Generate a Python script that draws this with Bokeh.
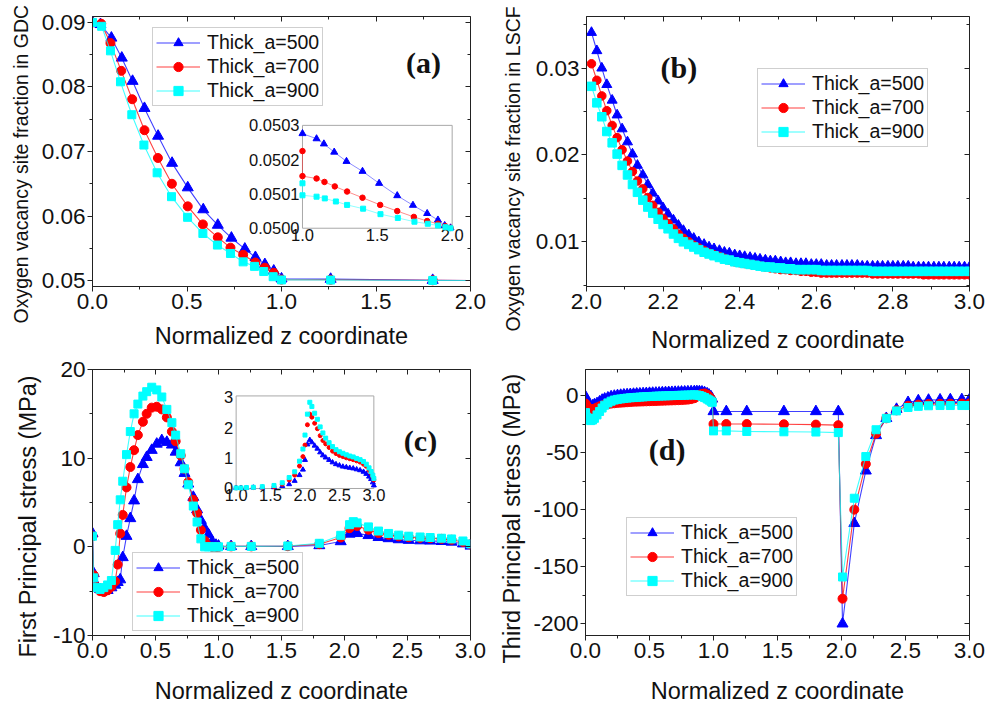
import numpy as np
from bokeh.plotting import figure
from bokeh.layouts import row, column
from bokeh.models import (Range1d, LinearAxis, SingleIntervalTicker, PrintfTickFormatter, Label, Title,
                          CustomJSTickFormatter)
from bokeh.core.properties import value
from bokeh.embed import file_html
from bokeh.resources import INLINE

# ---------------- data ----------------
SERIES = ["Thick_a=500", "Thick_a=700", "Thick_a=900"]

# (a) oxygen vacancy site fraction in GDC
X_A500 = [0.0, 0.042, 0.10, 0.155, 0.212, 0.275, 0.347, 0.421, 0.504, 0.586, 0.663, 0.735, 0.806, 0.862, 0.912, 0.959, 1.0, 1.26, 1.8, 2.0]
Y_A500 = [0.0900, 0.0897, 0.0876, 0.0845, 0.0809, 0.0767, 0.0724, 0.0682, 0.0644, 0.0610, 0.0586, 0.0566, 0.0549, 0.0536, 0.0525, 0.0515, 0.05028, 0.05022, 0.05005, 0.0500]
X_A700 = [0.0, 0.046, 0.095, 0.152, 0.21, 0.275, 0.346, 0.42, 0.504, 0.584, 0.663, 0.73, 0.797, 0.862, 0.912, 0.959, 1.0, 1.26, 1.8, 2.0]
Y_A700 = [0.0900, 0.0898, 0.0868, 0.0825, 0.0781, 0.0733, 0.0690, 0.0650, 0.0615, 0.0587, 0.0567, 0.0551, 0.0540, 0.0528, 0.0520, 0.0512, 0.05015, 0.05013, 0.05004, 0.0500]
X_A900 = [0.0, 0.048, 0.095, 0.148, 0.208, 0.272, 0.342, 0.418, 0.503, 0.584, 0.661, 0.73, 0.797, 0.857, 0.906, 0.956, 1.0, 1.26, 1.8, 2.0]
Y_A900 = [0.0900, 0.0894, 0.0856, 0.0808, 0.0757, 0.0710, 0.0667, 0.0630, 0.0598, 0.0573, 0.0555, 0.0542, 0.0529, 0.0522, 0.0514, 0.0506, 0.05010, 0.05008, 0.05002, 0.0500]

# (a) inset
XI_A500 = [1.0, 1.094, 1.143, 1.212, 1.294, 1.401, 1.512, 1.633, 1.738, 1.833, 1.905, 1.950, 1.989]
YI_A500 = [0.050276, 0.050261, 0.050246, 0.050222, 0.050195, 0.050166, 0.050131, 0.050095, 0.050067, 0.050043, 0.050024, 0.050008, 0.050001]
XI_A700 = [1.0, 1.0, 1.094, 1.147, 1.216, 1.298, 1.401, 1.519, 1.633, 1.744, 1.833, 1.905, 1.955, 1.989]
YI_A700 = [0.050225, 0.050152, 0.050145, 0.050135, 0.050122, 0.050107, 0.050089, 0.050068, 0.050050, 0.050033, 0.050021, 0.050013, 0.050006, 0.050001]
XI_A900 = [1.0, 1.0, 1.094, 1.149, 1.223, 1.298, 1.405, 1.521, 1.637, 1.748, 1.837, 1.905, 1.955, 1.989]
YI_A900 = [0.050131, 0.050096, 0.050092, 0.050087, 0.050078, 0.050068, 0.050057, 0.050041, 0.050030, 0.050019, 0.050013, 0.050008, 0.050003, 0.050000]
INSET_A_XTICKS = [1.0, 1.5, 2.0]
INSET_A_YTICKS = [0.0500, 0.0501, 0.0502, 0.0503]

# (b) oxygen vacancy site fraction in LSCF
X_B = [2.013, 2.027, 2.040, 2.053, 2.067, 2.080, 2.093, 2.107, 2.120, 2.133, 2.147, 2.160, 2.173, 2.187, 2.200,
       2.213, 2.227, 2.240, 2.253, 2.267, 2.280, 2.293, 2.307, 2.320, 2.333, 2.347, 2.360, 2.373, 2.387, 2.400,
       2.413, 2.427, 2.440, 2.453, 2.467, 2.480, 2.493, 2.507, 2.520, 2.533, 2.547, 2.560, 2.573, 2.587, 2.600,
       2.613, 2.627, 2.640, 2.653, 2.667, 2.680, 2.693, 2.707, 2.720, 2.733, 2.747, 2.760, 2.773, 2.787, 2.800,
       2.813, 2.827, 2.840, 2.853, 2.867, 2.880, 2.893, 2.907, 2.920, 2.933, 2.947, 2.960, 2.973, 2.987, 3.000]
Y_B500 = [0.0341, 0.0320, 0.0300, 0.0281, 0.0263, 0.0246, 0.0230, 0.0215, 0.0201, 0.0188, 0.0177, 0.0166,
          0.0156, 0.0147, 0.0139, 0.0132, 0.0125, 0.0119, 0.0113, 0.0108, 0.0104, 0.0100, 0.0097, 0.0094,
          0.0092, 0.0090, 0.0088, 0.0087, 0.0085, 0.0084, 0.0083, 0.0082, 0.0081, 0.0080, 0.0079, 0.0078,
          0.0078, 0.0077, 0.0076, 0.0076, 0.0075, 0.0075, 0.0075, 0.0074, 0.0074, 0.0074, 0.0073, 0.0073,
          0.0073, 0.0073, 0.0073, 0.0073, 0.0073, 0.0072, 0.0072, 0.0072, 0.0072, 0.0072, 0.0072, 0.0072,
          0.0072, 0.0072, 0.0072, 0.0071, 0.0071, 0.0071, 0.0071, 0.0071, 0.0071, 0.0071, 0.0071, 0.0071,
          0.0071, 0.0071, 0.0071]
Y_B700 = [0.0305, 0.0286, 0.0268, 0.0251, 0.0234, 0.0220, 0.0206, 0.0193, 0.0181, 0.0170, 0.0161, 0.0151,
          0.0142, 0.0134, 0.0127, 0.0121, 0.0115, 0.0109, 0.0104, 0.0100, 0.0096, 0.0093, 0.0090, 0.0087,
          0.0085, 0.0083, 0.0081, 0.0079, 0.0077, 0.0076, 0.0075, 0.0074, 0.0073, 0.0072, 0.0071, 0.0070,
          0.0069, 0.0068, 0.0068, 0.0067, 0.0067, 0.0066, 0.0066, 0.0065, 0.0065, 0.0064, 0.0064, 0.0064,
          0.0064, 0.0064, 0.0064, 0.0064, 0.0064, 0.0064, 0.0064, 0.0063, 0.0063, 0.0063, 0.0063, 0.0063,
          0.0063, 0.0063, 0.0063, 0.0063, 0.0063, 0.0062, 0.0062, 0.0062, 0.0062, 0.0062, 0.0062, 0.0062,
          0.0062, 0.0062, 0.0062]
Y_B900 = [0.0279, 0.0260, 0.0244, 0.0227, 0.0214, 0.0201, 0.0188, 0.0177, 0.0166, 0.0157, 0.0148, 0.0140,
          0.0133, 0.0126, 0.0120, 0.0115, 0.0109, 0.0104, 0.0100, 0.0097, 0.0094, 0.0091, 0.0088, 0.0086,
          0.0084, 0.0082, 0.0080, 0.0079, 0.0077, 0.0076, 0.0075, 0.0074, 0.0073, 0.0072, 0.0071, 0.0071,
          0.0070, 0.0070, 0.0069, 0.0069, 0.0068, 0.0068, 0.0068, 0.0068, 0.0068, 0.0067, 0.0067, 0.0067,
          0.0067, 0.0067, 0.0067, 0.0067, 0.0067, 0.0067, 0.0067, 0.0066, 0.0066, 0.0066, 0.0066, 0.0066,
          0.0066, 0.0066, 0.0066, 0.0066, 0.0066, 0.0066, 0.0066, 0.0066, 0.0066, 0.0066, 0.0066, 0.0066,
          0.0066, 0.0066, 0.0066]

# (c) first principal stress (MPa)
X_C = [0.0, 0.01, 0.03, 0.06, 0.09, 0.12, 0.15, 0.18, 0.2, 0.22, 0.24, 0.27, 0.3, 0.33, 0.36, 0.4, 0.43, 0.47,
       0.51, 0.55, 0.59, 0.63, 0.66, 0.7, 0.73, 0.76, 0.8, 0.83, 0.86, 0.89, 0.92, 0.95, 0.98, 1.0,
       1.1, 1.26, 1.55, 1.8, 1.97, 2.04, 2.07, 2.1, 2.19, 2.27, 2.35, 2.43, 2.51, 2.6, 2.68, 2.77, 2.85, 2.94, 3.0]
Y_C500 = [1.5, -3.0, -4.3, -4.8, -5.0, -4.9, -4.6, -4.3, -4.0, -3.7, -1.2, 1.2, 3.2, 5.2, 7.6, 9.3, 10.1, 10.9,
          11.6, 12.0, 11.8, 11.5, 10.7, 9.5, 8.3, 7.1, 5.6, 4.2, 3.0, 2.1, 1.4, 0.6, 0.2, 0.1,
          0.05, 0.05, 0.05, 0.15, 0.6, 1.45, 1.6, 1.52, 1.29, 1.07, 0.94, 0.82, 0.75, 0.70, 0.67, 0.62, 0.55, 0.35, 0.1]
Y_C700 = [1.2, -3.2, -4.5, -5.0, -5.1, -4.9, -4.5, -3.9, -2.0, 1.5, 3.6, 6.7, 9.0, 10.9, 12.6, 14.1, 15.0, 15.7,
          15.8, 15.5, 14.6, 13.0, 11.9, 10.3, 8.8, 7.3, 5.3, 3.8, 1.9, 0.7, 0.1, 0.0, 0.0, 0.0,
          0.05, 0.05, 0.07, 0.3, 1.05, 2.1, 2.45, 2.35, 1.93, 1.55, 1.35, 1.18, 1.08, 1.01, 0.97, 0.90, 0.80, 0.55, 0.28]
Y_C900 = [1.2, -3.5, -4.6, -4.8, -4.6, -4.3, -3.8, -0.4, 2.5, 5.3, 7.4, 10.4, 13.0, 15.0, 16.1, 17.0, 17.5, 18.0,
          17.7, 16.9, 15.5, 14.0, 12.6, 10.5, 8.8, 7.0, 4.6, 2.8, 0.9, 0.0, 0.0, 0.0, 0.0, 0.0,
          0.05, 0.05, 0.1, 0.4, 1.3, 2.5, 2.84, 2.7, 2.25, 1.78, 1.51, 1.32, 1.2, 1.11, 1.05, 0.97, 0.89, 0.66, 0.33]

# (c) inset
XI_C = [1.0, 1.07, 1.15, 1.25, 1.38, 1.55, 1.67, 1.77, 1.85, 1.92, 1.97, 2.0, 2.035, 2.07, 2.1, 2.14, 2.18, 2.22,
        2.26, 2.3, 2.35, 2.4, 2.45, 2.5, 2.55, 2.6, 2.65, 2.7, 2.75, 2.8, 2.85, 2.89, 2.93, 2.96, 2.985, 3.0]
YI_C500 = [0.02, 0.02, 0.02, 0.03, 0.03, 0.04, 0.08, 0.14, 0.25, 0.44, 0.62, 0.94, 1.45, 1.6, 1.52, 1.41, 1.31, 1.19,
           1.09, 1.02, 0.94, 0.86, 0.80, 0.76, 0.72, 0.70, 0.68, 0.66, 0.63, 0.60, 0.55, 0.48, 0.39, 0.31, 0.2, 0.1]
YI_C700 = [0.02, 0.02, 0.02, 0.03, 0.04, 0.06, 0.14, 0.28, 0.44, 0.74, 1.05, 1.43, 2.1, 2.45, 2.35, 2.15, 1.97, 1.74,
           1.58, 1.47, 1.35, 1.23, 1.15, 1.09, 1.05, 1.01, 0.98, 0.95, 0.91, 0.87, 0.80, 0.73, 0.60, 0.50, 0.38, 0.28]
YI_C900 = [0.02, 0.02, 0.03, 0.04, 0.06, 0.10, 0.19, 0.36, 0.55, 0.9, 1.3, 1.76, 2.45, 2.84, 2.7, 2.48, 2.28, 2.03,
           1.83, 1.66, 1.51, 1.38, 1.28, 1.21, 1.16, 1.11, 1.07, 1.04, 0.99, 0.95, 0.89, 0.80, 0.68, 0.56, 0.44, 0.33]
INSET_C_XTICKS = [1.0, 1.5, 2.0, 2.5, 3.0]
INSET_C_YTICKS = [0, 1, 2, 3]

# (d) third principal stress (MPa)
X_D = [0.0, 0.01, 0.025, 0.04, 0.055, 0.07, 0.09, 0.11, 0.13, 0.15, 0.175, 0.2, 0.225, 0.25, 0.275, 0.3, 0.325,
       0.35, 0.375, 0.4, 0.425, 0.45, 0.475, 0.5, 0.525, 0.55, 0.575, 0.6, 0.625, 0.65, 0.675, 0.7, 0.725, 0.75,
       0.775, 0.8, 0.825, 0.85, 0.87, 0.89, 0.91, 0.93, 0.95, 0.965, 0.98, 0.99, 1.0,
       1.1, 1.26, 1.55, 1.8, 1.975, 2.008, 2.1, 2.19, 2.27, 2.35, 2.43, 2.52, 2.6, 2.68, 2.77, 2.85, 2.94, 3.0]
Y_D500 = [-1, -4, -8, -9.5, -9, -8, -7, -5.5, -4, -3, -2, -1, -0.5, 0, 0.3, 0.6, 0.8,
          1.0, 1.2, 1.4, 1.5, 1.7, 1.8, 2.0, 2.1, 2.2, 2.3, 2.5, 2.6, 2.7, 2.8, 2.9, 3.0, 3.1,
          3.2, 3.3, 3.4, 3.5, 3.5, 3.4, 3.2, 2.6, 1.6, 0.5, -1.0, -3.0, -14,
          -14, -14, -14, -14, -14, -200, -112, -66, -35, -20, -12, -6, -4.5, -4, -3.8, -3.6, -3.5, -3.5]
Y_D700 = [-7, -9, -11, -12, -12, -11.5, -10.5, -9.5, -8.8, -8.2, -7.6, -7.1, -6.8, -6.5, -6.3, -6.1, -5.9,
          -5.7, -5.5, -5.4, -5.3, -5.2, -5.1, -5.0, -4.9, -4.8, -4.7, -4.6, -4.5, -4.4, -4.3, -4.2, -4.1, -4.0,
          -3.8, -3.6, -3.2, -2.4, -1.0, 0.5, 1.5, 1.8, 0.8, -0.8, -2.8, -5, -25,
          -25, -25, -25.2, -25.5, -26, -178, -100, -60, -33.5, -20, -13, -9, -8, -7.5, -7.3, -7.2, -7.1, -7]
Y_D900 = [-15, -19, -21, -22, -21.5, -20, -17, -14, -11, -8.5, -6.5, -5, -4, -3.4, -3, -2.6, -2.3,
          -2.0, -1.8, -1.6, -1.4, -1.2, -1.0, -0.9, -0.8, -0.6, -0.5, -0.4, -0.3, -0.2, -0.1, 0.0, 0.1, 0.2,
          0.3, 0.4, 0.5, 0.6, 0.4, 0.0, -0.8, -1.8, -3.0, -4.0, -5.0, -6.0, -31,
          -31, -31.5, -31.8, -32, -32.5, -159, -90, -53.5, -30, -20, -13.5, -10.5, -9.5, -9, -8.8, -8.8, -8.8, -8.8]

# ---------------- styling ----------------
COLORS = ["#0000ff", "#ff0000", "#00ffff"]
MARKERS = ["triangle", "circle", "square"]
FONT = "Liberation Sans"
SERIF = "Liberation Serif"
AX = "#222222"
TXT = "#111111"


def make_fig(width, height, xr, yr, left, right, top, bottom):
    return figure(width=width, height=height, x_range=Range1d(*xr), y_range=Range1d(*yr),
                  min_border_left=left, min_border_right=right, min_border_top=top, min_border_bottom=bottom,
                  output_backend="svg", toolbar_location=None)


def style(p, xr, yr, x_int, y_int, x_fmt, y_fmt, xlabel, x_standoff, ylabel, ysize, y_standoff, y_offset):
    p.grid.visible = False
    p.outline_line_color = AX
    p.outline_line_width = 1
    p.background_fill_color = "white"
    p.border_fill_color = "white"
    for ax, interval, fmt in ((p.xaxis[0], x_int, x_fmt), (p.yaxis[0], y_int, y_fmt)):
        ax.ticker = SingleIntervalTicker(interval=interval, num_minor_ticks=2)
        ax.formatter = PrintfTickFormatter(format=fmt)
        ax.axis_line_color = AX
        ax.major_tick_line_color = AX
        ax.minor_tick_line_color = AX
        ax.major_tick_out = 5
        ax.major_tick_in = 0
        ax.minor_tick_out = 3
        ax.minor_tick_in = 0
        ax.major_label_text_font = FONT
        ax.major_label_text_font_size = "22.5px"
        ax.major_label_text_color = TXT
        ax.major_label_standoff = 2
    xa = p.xaxis[0]
    xa.axis_label = xlabel
    xa.axis_label_text_font = FONT
    xa.axis_label_text_font_size = "23.5px"
    xa.axis_label_text_font_style = "normal"
    xa.axis_label_text_color = TXT
    xa.axis_label_standoff = x_standoff
    # mirrored inward ticks on the top and right edges (pinned, so they take no border space)
    for loc, interval, where in (("above", x_int, yr[1]), ("right", y_int, xr[1])):
        ax = LinearAxis(ticker=SingleIntervalTicker(interval=interval, num_minor_ticks=2),
                        formatter=CustomJSTickFormatter(code="return ''"),
                        fixed_location=where,
                        major_tick_in=5, major_tick_out=0, minor_tick_in=3, minor_tick_out=0,
                        major_label_text_font_size="1px", major_label_standoff=0,
                        axis_line_color=AX, major_tick_line_color=AX, minor_tick_line_color=AX)
        p.add_layout(ax, loc)
    p.add_layout(Title(text=ylabel, align="left", offset=y_offset, standoff=y_standoff,
                       text_font=FONT, text_font_size=ysize, text_font_style="normal",
                       text_color=TXT), "left")


def draw(p, xs, ys, sizes, marker_stop=None):
    for i in range(3):
        x = xs[i]
        y = ys[i]
        p.line(x, y, line_color=COLORS[i], line_width=1.1, line_alpha=0.75, legend_label=SERIES[i])
        p.scatter(x[:marker_stop], y[:marker_stop], marker=MARKERS[i], size=sizes[i],
                  fill_color=COLORS[i], line_color=COLORS[i], legend_label=SERIES[i])


def legend_style(p, loc):
    lg = p.legend[0]
    lg.location = loc
    lg.glyph_width = 44
    lg.glyph_height = 23
    lg.label_height = 23
    lg.label_standoff = 7
    lg.label_text_font = FONT
    lg.label_text_font_size = "19.5px"
    lg.label_text_color = TXT
    lg.spacing = 1
    lg.padding = 3
    lg.margin = 0
    lg.border_line_color = "#a0a0a0"
    lg.border_line_width = 1.5
    lg.background_fill_alpha = 1.0


def panel_label(p, x, y, text):
    p.add_layout(Label(x=x, y=y, text=text, text_font=SERIF, text_font_size="30px",
                       text_font_style="bold", text_align="center", text_baseline="middle",
                       text_color=TXT))


def inset(p, xlim, ylim, xt, yt, xfmt, yfmt, x_target, y_target):
    sub = p.subplot(x_source=Range1d(*xlim), y_source=Range1d(*ylim),
                    x_target=Range1d(*x_target), y_target=Range1d(*y_target))
    sub.quad(left=[xlim[0]], right=[xlim[1]], bottom=[ylim[0]], top=[ylim[1]],
             fill_color="white", line_color="#a8a8a8", line_width=1)
    sub.text(x=[xlim[0]] * len(yt), y=yt, text=[yfmt % t for t in yt], x_offset=-3,
             text_align="right", text_baseline="middle", text_font=value(FONT),
             text_font_size="16.5px", text_color=TXT)
    sub.text(x=xt, y=[ylim[0]] * len(xt), text=[xfmt % t for t in xt], y_offset=1,
             text_align="center", text_baseline="top", text_font=value(FONT),
             text_font_size="16.5px", text_color=TXT)
    return sub


# ---------------- (a) ----------------
XR_A, YR_A = (0, 2), (0.04908, 0.09092)
pa = make_fig(490, 355, XR_A, YR_A, 92, 20, 16, 67)
style(pa, XR_A, YR_A, 0.5, 0.01, "%.1f", "%.2f", "Normalized z coordinate", 11,
      "Oxygen vacancy site fraction in GDC", "19.5px", 13, -37)
draw(pa, [X_A500, X_A700, X_A900], [Y_A500, Y_A700, Y_A900], [11, 9, 8], marker_stop=-1)
legend_style(pa, (60, 180))
sa = inset(pa, (1.0, 2.0), (0.0500, 0.0503), INSET_A_XTICKS, INSET_A_YTICKS, "%.1f", "%.4f",
           (1.111, 1.903), (0.05811, 0.07405))
for xs, ys, c, m, s in ((XI_A500, YI_A500, COLORS[0], MARKERS[0], 7),
                        (XI_A700, YI_A700, COLORS[1], MARKERS[1], 5.5),
                        (XI_A900, YI_A900, COLORS[2], MARKERS[2], 5)):
    sa.line(xs, ys, line_color=c, line_width=1, line_alpha=0.45)
    sa.scatter(xs, ys, marker=m, size=s, fill_color=c, line_color=c)
panel_label(pa, 1.751, 0.08377, "(a)")

# ---------------- (b) ----------------
XR_B, YR_B = (2, 3), (0.004857, 0.035943)
pb = make_fig(497, 355, XR_B, YR_B, 92, 18, 16, 67)
style(pb, XR_B, YR_B, 0.2, 0.01, "%.1f", "%.2f", "Normalized z coordinate", 15,
      "Oxygen vacancy site fraction in LSCF", "19.5px", 18, -45)
draw(pb, [X_B, X_B, X_B], [Y_B500, Y_B700, Y_B900], [10, 8.5, 8.5])
legend_style(pb, (171, 139))
panel_label(pb, 2.241, 0.03006, "(b)")

# ---------------- (c) ----------------
XR_C, YR_C = (0, 3), (-10, 20)
pc = make_fig(490, 351, XR_C, YR_C, 92, 20, 14, 71)
style(pc, XR_C, YR_C, 0.5, 10, "%.1f", "%d", "Normalized z coordinate", 17,
      "First Principal stress (MPa)", "23.5px", 18, -22)
draw(pc, [X_C, X_C, X_C], [Y_C500, Y_C700, Y_C900], [11, 9, 8])
legend_style(pc, (40, 4))
sc = inset(pc, (1.0, 3.0), (0, 3.05), INSET_C_XTICKS, INSET_C_YTICKS, "%.1f", "%d",
           (1.140, 2.233), (6.58, 17.02))
for ys, c, m, s in ((YI_C500, COLORS[0], MARKERS[0], 5),
                    (YI_C700, COLORS[1], MARKERS[1], 4),
                    (YI_C900, COLORS[2], MARKERS[2], 4)):
    sc.scatter(XI_C, ys, marker=m, size=s, fill_color=c, line_color=c)
panel_label(pc, 2.603, 12.03, "(c)")

# ---------------- (d) ----------------
XR_D, YR_D = (0, 3), (-210.25, 22.77)
pd = make_fig(497, 351, XR_D, YR_D, 92, 18, 14, 71)
style(pd, XR_D, YR_D, 0.5, 50, "%.1f", "%d", "Normalized z coordinate", 17,
      "Third Principal stress (MPa)", "23.5px", 12, -28)
draw(pd, [X_D, X_D, X_D], [Y_D500, Y_D700, Y_D900], [11, 9, 8])
legend_style(pd, (41, 39))
panel_label(pd, 0.637, -46.9, "(d)")

layout = column(row(pa, pb), row(pc, pd))
open("out.html", "w").write(file_html(layout, INLINE))
